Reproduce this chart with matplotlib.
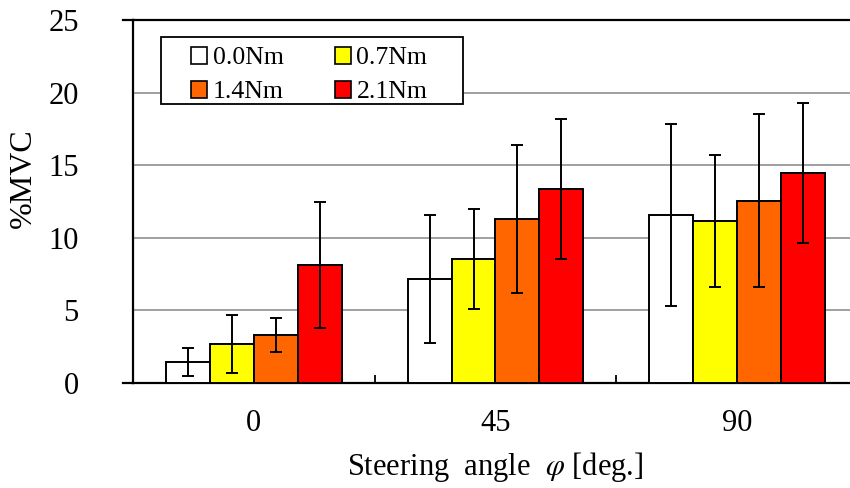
import matplotlib
matplotlib.use("Agg")
import matplotlib.pyplot as plt
import numpy as np
from matplotlib.patches import Patch, Rectangle

plt.rcParams['font.family'] = ['Liberation Serif', 'DejaVu Serif']
plt.rcParams['mathtext.fontset'] = 'stix'

angles = ["0", "45", "90"]
torques = ["0.0Nm", "0.7Nm", "1.4Nm", "2.1Nm"]
colors = ["#FFFFFF", "#FFFF00", "#FF6600", "#FF0000"]

# mean %MVC per torque level, one value per steering angle
mvc_mean = {
    "0.0Nm": [1.43, 7.16, 11.57],
    "0.7Nm": [2.68, 8.54, 11.16],
    "1.4Nm": [3.30, 11.29, 12.55],
    "2.1Nm": [8.15, 13.36, 14.45],
}
# standard deviations
mvc_sd = {
    "0.0Nm": [0.97, 4.40, 6.25],
    "0.7Nm": [2.00, 3.45, 4.52],
    "1.4Nm": [1.17, 5.08, 5.95],
    "2.1Nm": [4.33, 4.82, 4.82],
}

W, H = 850, 488
fig = plt.figure(figsize=(W / 100, H / 100), dpi=100)
ax = fig.add_axes([133 / W, 1 - 383 / H, 725 / W, 363 / H])

x = np.arange(len(angles))
width = 1 / 5.5
for i, t in enumerate(torques):
    off = (i - 1.5) * width
    ax.bar(x + off, mvc_mean[t], width, color=colors[i], edgecolor="black",
           linewidth=1.4, zorder=3)
    ax.errorbar(x + off, mvc_mean[t], yerr=mvc_sd[t], fmt="none",
                ecolor="black", elinewidth=1.4, capsize=4.5, capthick=1.4,
                zorder=4)

ax.set_xlim(-0.5, 2.5)
ax.set_ylim(0, 25)
ax.set_yticks(np.arange(0, 26, 5))
ax.yaxis.grid(True, color="#a0a0a0", linewidth=1.4, zorder=0)
ax.set_axisbelow(True)
ax.tick_params(axis="y", length=0, pad=39, labelsize=22)

# category separators on the x axis, labels centred under each group
ax.set_xticks([0.5, 1.5])
ax.set_xticklabels([])
ax.set_xticks(x, minor=True)
ax.set_xticklabels(angles, minor=True)
ax.tick_params(axis="x", which="major", direction="in", length=6,
               width=1.3)
ax.tick_params(axis="x", which="minor", length=0, pad=19, labelsize=22)

for side in ("left", "bottom", "top"):
    ax.spines[side].set_linewidth(1.6)
ax.spines["right"].set_visible(False)

# short stubs left of the axis at 0 and 25
d = 10 / 242
for yv in (0, 25):
    ax.plot([-0.5 - d, -0.5], [yv, yv], color="black", linewidth=1.6,
            clip_on=False, zorder=5)

ax.set_ylabel("%MVC", fontsize=23)
ax.yaxis.set_label_coords((38 - 133) / 725, (383 - 178) / 363)
ax.set_xlabel(r"Steering  angle  $\varphi$ [deg.]", fontsize=22)
ax.xaxis.set_label_coords((495 - 133) / 725, -(450 - 383) / 363)

# legend box
fig.patches.append(Rectangle((161 / W, 1 - 104 / H), (463 - 161) / W,
                             (104 - 37) / H, transform=fig.transFigure,
                             facecolor="white", edgecolor="black",
                             linewidth=1.3, zorder=6))

handles = [Patch(facecolor=c, edgecolor="black", linewidth=1.2) for c in colors]
order = [0, 2, 1, 3]
leg = fig.legend([handles[k] for k in order], [torques[k] for k in order],
                 ncol=2, loc="upper left",
                 bbox_to_anchor=(191 / W, 1 - 47 / H),
                 bbox_transform=fig.transFigure,
                 fontsize=18.5, frameon=False,
                 handlelength=0.62, handleheight=0.62, handletextpad=0.22,
                 columnspacing=2.0, labelspacing=0.45, borderpad=0,
                 borderaxespad=0)
leg.set_zorder(7)

fig.savefig("out.png", dpi=100)
